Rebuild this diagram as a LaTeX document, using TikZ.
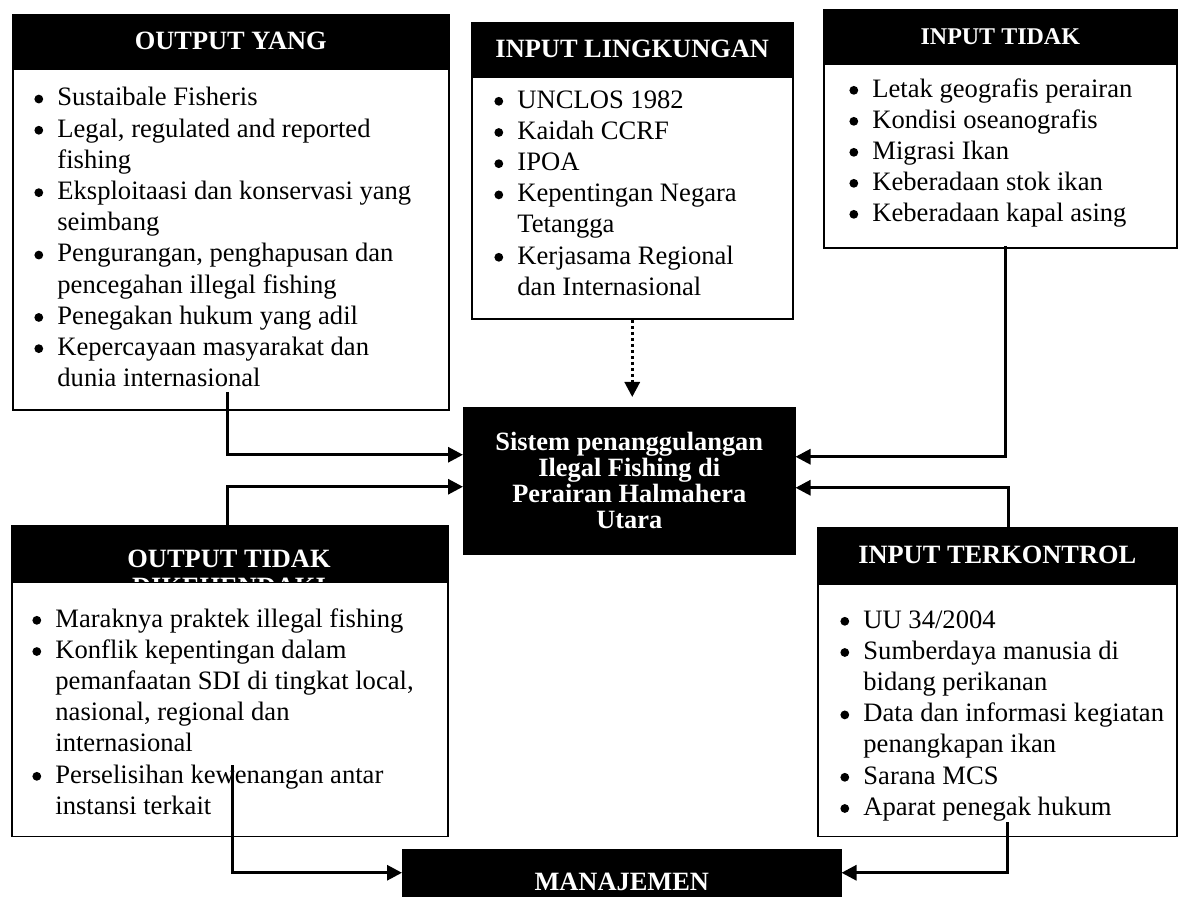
\documentclass[tikz,border=0pt]{standalone}
\usepackage{fontspec}
\setmainfont{Liberation Serif}
\usetikzlibrary{arrows.meta}

\newcommand{\lbul}{\makebox[11.5pt][l]{\tikz[baseline=0pt]\fill (2.3pt,3.4pt) circle (2.2pt);}}
\newcommand{\lcont}{\hspace*{11.5pt}}

\tikzset{
  hdr/.style={draw, line width=0.75pt, fill=black, text=white, anchor=north west,
    inner sep=0pt, align=center, font=\bfseries\fontsize{13.2}{14}\selectfont},
  bodybox/.style={draw, line width=0.75pt, anchor=north west, inner sep=0pt},
  items/.style={anchor=north west, inner sep=0pt, align=left,
    font=\fontsize{13.3}{15.6}\selectfont},
  arr/.style={line width=1.5pt, -{Triangle[length=7.5pt,width=7.5pt]}},
  dotarr/.style={line width=1.5pt, dash pattern=on 1.5pt off 1.5pt,
    -{Triangle[length=7.5pt,width=7.5pt]}}
}

\begin{document}
\begin{tikzpicture}[x=0.5pt,y=-0.5pt]
\useasboundingbox (0,0) rectangle (1187,897);

% output yang dikehendaki
\node[hdr, minimum width=218pt, minimum height=26.5pt] (oyanghd) at (12,14) {OUTPUT YANG};
\node[bodybox, minimum width=218pt, minimum height=170.5pt] (oyangbd) at (oyanghd.south west) {};
\node[items] (oyangtx) at (34,87) {\lbul Sustaibale Fisheris\\
  \lbul Legal, regulated and reported\\ \lcont fishing\\
  \lbul Eksploitaasi dan konservasi yang\\ \lcont seimbang\\
  \lbul Pengurangan, penghapusan dan\\ \lcont pencegahan illegal fishing\\
  \lbul Penegakan hukum yang adil\\
  \lbul Kepercayaan masyarakat dan\\ \lcont dunia internasional};

% input lingkungan
\node[hdr, minimum width=160.5pt, minimum height=26.5pt] (ilingkhd) at (471,22) {INPUT LINGKUNGAN};
\node[bodybox, minimum width=160.5pt, minimum height=121pt] (ilingkbd) at (ilingkhd.south west) {};
\node[items] (ilingktx) at (494,90) {\lbul UNCLOS 1982\\
  \lbul Kaidah CCRF\\
  \lbul IPOA\\
  \lbul Kepentingan Negara\\ \lcont Tetangga\\
  \lbul Kerjasama Regional\\ \lcont dan Internasional};

% input tidak terkontrol
\node[hdr, minimum width=176.5pt, minimum height=26.5pt,
  font=\bfseries\fontsize{12}{13}\selectfont] (itidakhd) at (823,9) {INPUT TIDAK};
\node[bodybox, minimum width=176.5pt, minimum height=92pt] (itidakbd) at (itidakhd.south west) {};
\node[items, font=\fontsize{13.3}{15.5}\selectfont] (itidaktx) at (849,78) {\lbul Letak geografis perairan\\
  \lbul Kondisi oseanografis\\
  \lbul Migrasi Ikan\\
  \lbul Keberadaan stok ikan\\
  \lbul Keberadaan kapal asing};

% sistem
\node[hdr, minimum width=165.5pt, minimum height=73pt,
  font=\bfseries\fontsize{13.2}{13}\selectfont] (sys) at (463,407)
  {Sistem penanggulangan\\ Ilegal Fishing di\\ Perairan Halmahera\\ Utara};

% output tidak dikehendaki
\node[hdr, minimum width=218pt, minimum height=27.5pt] (otidakhd) at (11,525) {};
\begin{scope}
  \clip (otidakhd.north west) rectangle (otidakhd.south east);
  \node[anchor=north, inner sep=0pt, align=center, text=white,
    font=\bfseries\fontsize{13.2}{14}\selectfont] (otidakttl) at (229,550)
    {OUTPUT TIDAK\\ DIKEHENDAKI};
\end{scope}
\node[bodybox, minimum width=218pt, minimum height=127pt] (otidakbd) at (otidakhd.south west) {};
\node[items] (otidaktx) at (32,608) {\lbul Maraknya praktek illegal fishing\\
  \lbul Konflik kepentingan dalam\\ \lcont pemanfaatan SDI di tingkat local,\\
  \lcont nasional, regional dan\\ \lcont internasional\\
  \lbul Perselisihan kewenangan antar\\ \lcont instansi terkait};

% input terkontrol
\node[hdr, minimum width=179.5pt, minimum height=27.5pt] (ikontrolhd) at (817,527) {INPUT TERKONTROL};
\node[bodybox, minimum width=179.5pt, minimum height=126pt] (ikontrolbd) at (ikontrolhd.south west) {};
\node[items] (ikontroltx) at (840,610) {\lbul UU 34/2004\\
  \lbul Sumberdaya manusia di\\ \lcont bidang perikanan\\
  \lbul Data dan informasi kegiatan\\ \lcont penangkapan ikan\\
  \lbul Sarana MCS\\
  \lbul Aparat penegak hukum};

% manajemen
\node[hdr, minimum width=219pt, minimum height=32pt] (manaj) at (402,849) {MANAJEMEN};

\coordinate (oyfoot) at (227,392);
\coordinate (otup) at (227,525);
\coordinate (itfoot) at (1005,246);
\coordinate (ikup) at (1008,527);
\coordinate (otfoot) at (232,765);
\coordinate (ikfoot) at (1007,822);

\draw[arr] (oyfoot) |- ([yshift=13pt]sys.west);
\draw[arr] (otup) |- ([yshift=-3pt]sys.west);
\draw[arr] (itfoot) |- ([yshift=12pt]sys.east);
\draw[arr] (ikup) |- ([yshift=-3.5pt]sys.east);
\draw[dotarr, shorten >=5pt] (ilingkbd.south) -- (ilingkbd.south |- sys.north);
\draw[arr] (otfoot) |- ([yshift=4.5pt]manaj.west);
\draw[arr] (ikfoot) |- ([yshift=4.5pt]manaj.east);
\end{tikzpicture}
\end{document}
